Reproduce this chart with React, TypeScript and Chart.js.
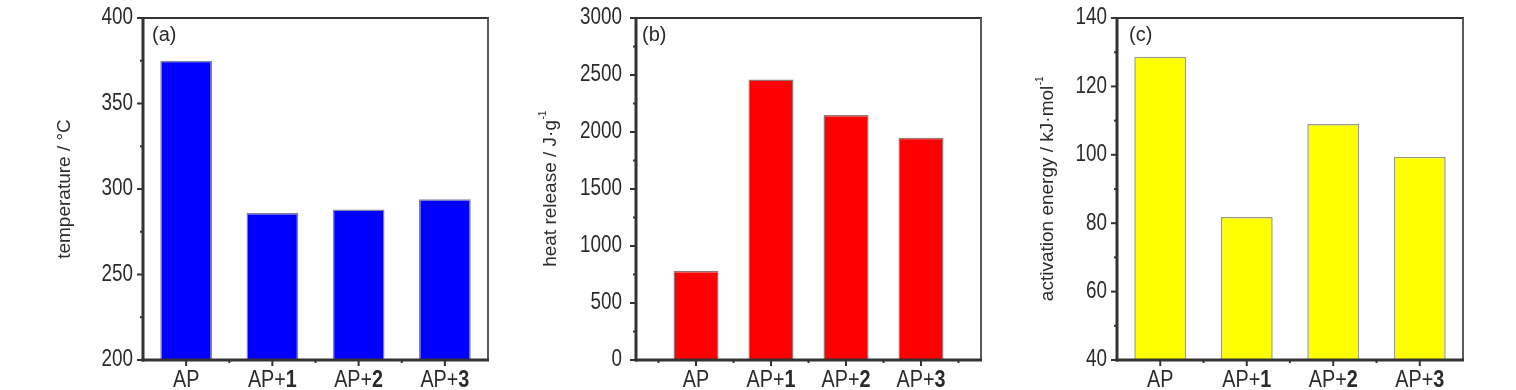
import React, { useEffect, useRef } from 'react';
import { Chart, registerables } from 'chart.js';

Chart.register(...registerables);

// ---- data ----
const categories = ['AP', 'AP+1', 'AP+2', 'AP+3'];
const temperatureValues = [375, 286, 288, 294];
const heatReleaseValues = [780, 2460, 2150, 1950];
const activationEnergyValues = [128.7, 81.8, 109, 99.4];
const temperatureTicks = [200, 250, 300, 350, 400];
const heatReleaseTicks = [0, 500, 1000, 1500, 2000, 2500, 3000];
const activationEnergyTicks = [40, 60, 80, 100, 120, 140];

const REGULAR = '"Liberation Sans", Arial, sans-serif';
const TEXT = '#2b2b2b';
const NARROW_SCALE = 0.82;
const XLABEL_SCALE = 0.86;

type Panel = {
  tag: string;
  title: string;
  sup: string;
  values: number[];
  ticks: number[];
  color: string;
  border: string;
  xMin: number;
  xMax: number;
  left: number;
  width: number;
  areaLeft: number;
  areaRight: number;
  titleOffset: number;
  tickPad: number;
  tagOffset: number;
};

const panels: Panel[] = [
  {
    tag: '(a)', title: 'temperature / \u00b0C', sup: '', values: temperatureValues, ticks: temperatureTicks,
    color: '#0000ff', border: 'rgba(90,90,130,0.75)', xMin: 0.5, xMax: 4.5,
    left: 0, width: 505, areaLeft: 143, areaRight: 488, titleOffset: 78, tickPad: 10, tagOffset: 9,
  },
  {
    tag: '(b)', title: 'heat release / J\u00b7g', sup: '-1', values: heatReleaseValues, ticks: heatReleaseTicks,
    color: '#ff0000', border: 'rgba(120,70,70,0.75)', xMin: 0.2, xMax: 4.8,
    left: 505, width: 505, areaLeft: 636, areaRight: 981, titleOffset: 85, tickPad: 14, tagOffset: 6,
  },
  {
    tag: '(c)', title: 'activation energy / kJ\u00b7mol', sup: '-1', values: activationEnergyValues, ticks: activationEnergyTicks,
    color: '#ffff00', border: 'rgba(130,130,110,0.8)', xMin: 0.5, xMax: 4.5,
    left: 1010, width: 506, areaLeft: 1117, areaRight: 1463, titleOffset: 69, tickPad: 10, tagOffset: 12,
  },
];

const TOP = 18;
const BOTTOM = 360;
const HEIGHT = 390;

function scaledText(ctx: CanvasRenderingContext2D, text: string, x: number, y: number, align: 'left' | 'right' | 'center', k: number) {
  const w = ctx.measureText(text).width * k;
  let sx = x;
  if (align === 'right') sx = x - w;
  else if (align === 'center') sx = x - w / 2;
  ctx.save();
  ctx.translate(sx, y);
  ctx.scale(k, 1);
  ctx.textAlign = 'left';
  ctx.fillText(text, 0, 0);
  ctx.restore();
  return w;
}

function makeDecorPlugin(p: Panel) {
  return {
    id: 'decor',
    afterDraw(chart: any) {
      const { ctx, chartArea: ca, scales } = chart;
      const x = scales.x;
      const y = scales.y;
      const line = (x1: number, y1: number, x2: number, y2: number) => {
        ctx.beginPath();
        ctx.moveTo(x1, y1);
        ctx.lineTo(x2, y2);
        ctx.stroke();
      };
      ctx.save();
      // frame
      ctx.lineCap = 'butt';
      ctx.lineWidth = 2;
      ctx.strokeStyle = '#333';
      line(ca.left, ca.top, ca.right + 1, ca.top);
      ctx.strokeStyle = '#5a5a5a';
      line(ca.right, ca.top, ca.right, ca.bottom);
      ctx.lineWidth = 3;
      ctx.strokeStyle = '#333';
      line(ca.left, ca.top - 1, ca.left, ca.bottom + 1.5);
      line(ca.left - 1.5, ca.bottom, ca.right + 1, ca.bottom);

      // y ticks + labels
      ctx.lineWidth = 2;
      ctx.strokeStyle = '#333';
      ctx.fillStyle = TEXT;
      ctx.textBaseline = 'middle';
      ctx.font = `23px ${REGULAR}`;
      p.ticks.forEach((v, i) => {
        const py = y.getPixelForValue(v);
        line(ca.left - 6, py, ca.left, py);
        scaledText(ctx, String(v), ca.left - p.tickPad, py, 'right', NARROW_SCALE);
        if (i < p.ticks.length - 1) {
          const mid = (v + p.ticks[i + 1]) / 2;
          const pm = y.getPixelForValue(mid);
          line(ca.left - 3, pm, ca.left, pm);
        }
      });
      // x ticks
      categories.forEach((_, i) => {
        const px = x.getPixelForValue(i + 1);
        line(px, ca.bottom, px, ca.bottom + 6);
      });
      for (let i = 0; i <= categories.length; i++) {
        const v = i + 0.5;
        if (v > p.xMin + 0.01 && v < p.xMax - 0.01) {
          const px = x.getPixelForValue(v);
          line(px, ca.bottom, px, ca.bottom + 3);
        }
      }

      // x labels with bold digits
      ctx.textBaseline = 'alphabetic';
      ctx.textAlign = 'left';
      categories.forEach((lab, i) => {
        const m = lab.match(/^(.*?\+)(\d+)$/);
        const pre = m ? m[1] : lab;
        const num = m ? m[2] : '';
        const fNorm = `23px ${REGULAR}`;
        const fBold = `bold 23px ${REGULAR}`;
        ctx.font = fNorm;
        const w1 = ctx.measureText(pre).width * XLABEL_SCALE;
        ctx.font = fBold;
        const w2 = num ? ctx.measureText(num).width * XLABEL_SCALE : 0;
        const px = x.getPixelForValue(i + 1);
        const sx = px - (w1 + w2) / 2;
        const by = ca.bottom + 27;
        ctx.font = fNorm;
        scaledText(ctx, pre, sx, by, 'left', XLABEL_SCALE);
        if (num) {
          ctx.font = fBold;
          scaledText(ctx, num, sx + w1, by, 'left', XLABEL_SCALE);
        }
      });

      // panel tag
      ctx.font = `20px ${REGULAR}`;
      ctx.fillText(p.tag, ca.left + p.tagOffset, ca.top + 23);

      // axis title
      ctx.translate(ca.left - p.titleOffset, (ca.top + ca.bottom) / 2);
      ctx.rotate(-Math.PI / 2);
      ctx.font = `19px ${REGULAR}`;
      const wMain = ctx.measureText(p.title).width;
      ctx.font = `10px ${REGULAR}`;
      const wSup = p.sup ? ctx.measureText(p.sup).width : 0;
      const start = -(wMain + wSup) / 2;
      ctx.textBaseline = 'middle';
      ctx.font = `19px ${REGULAR}`;
      ctx.fillText(p.title, start, 0);
      if (p.sup) {
        ctx.font = `10px ${REGULAR}`;
        ctx.fillText(p.sup, start + wMain + 0.5, -8);
      }
      ctx.restore();
    },
  };
}

function PanelChart({ p }: { p: Panel }) {
  const ref = useRef<HTMLCanvasElement | null>(null);
  useEffect(() => {
    if (!ref.current) return;
    const yWidth = p.areaLeft - p.left;
    const padRight = p.left + p.width - p.areaRight;
    const chart = new Chart(ref.current, {
      type: 'bar',
      data: {
        datasets: [
          {
            data: p.values.map((v, i) => ({ x: i + 1, y: v })),
            backgroundColor: p.color,
            borderColor: p.border,
            borderWidth: 1.5,
            barPercentage: 0.6,
            categoryPercentage: 1,
          },
        ],
      },
      options: {
        responsive: false,
        animation: false,
        devicePixelRatio: 1,
        layout: { padding: { top: TOP, right: padRight, left: 0, bottom: 0 } },
        plugins: { legend: { display: false }, tooltip: { enabled: false } },
        scales: {
          x: {
            type: 'linear',
            offset: false,
            min: p.xMin,
            max: p.xMax,
            grid: { display: false, drawTicks: false },
            border: { display: false },
            ticks: { display: false },
            afterBuildTicks: (s: any) => {
              s.ticks = categories.map((_, i) => ({ value: i + 1 }));
            },
            afterFit: (s: any) => {
              s.height = HEIGHT - BOTTOM;
              s.paddingLeft = 0;
              s.paddingRight = 0;
            },
          },
          y: {
            type: 'linear',
            min: p.ticks[0],
            max: p.ticks[p.ticks.length - 1],
            grid: { display: false, drawTicks: false },
            border: { display: false },
            ticks: { display: false },
            afterBuildTicks: (s: any) => {
              s.ticks = p.ticks.map((v) => ({ value: v }));
            },
            afterFit: (s: any) => {
              s.width = yWidth;
              s.paddingTop = 0;
              s.paddingBottom = 0;
            },
          },
        },
      },
      plugins: [makeDecorPlugin(p)],
    } as any);
    return () => chart.destroy();
  }, [p]);
  return (
    <canvas
      ref={ref}
      width={p.width}
      height={HEIGHT}
      style={{ position: 'absolute', left: p.left, top: 0, width: p.width, height: HEIGHT }}
    />
  );
}

export default function App() {
  return (
    <div style={{ position: 'absolute', left: 0, top: 0, width: 1516, height: HEIGHT, background: '#fff' }}>
      {panels.map((p) => (
        <PanelChart key={p.tag} p={p} />
      ))}
    </div>
  );
}
